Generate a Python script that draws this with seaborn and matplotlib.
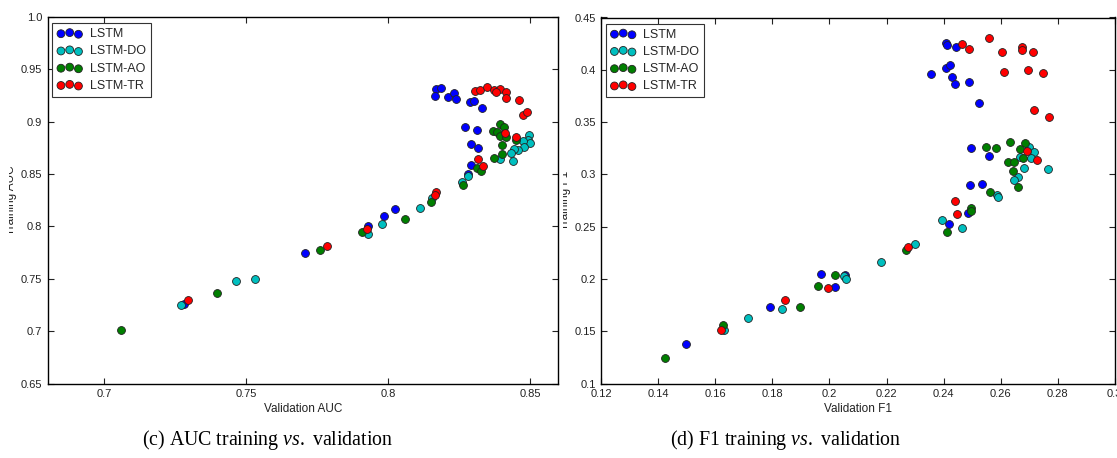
import matplotlib
matplotlib.use("Agg")
import matplotlib.pyplot as plt
import matplotlib.ticker as mticker
from matplotlib.transforms import Bbox, TransformedBbox
import seaborn as sns

# ---- AUC (training vs. validation) ----
lstm_val_auc = [0.8168, 0.8187, 0.8166, 0.8212, 0.8233, 0.8240, 0.8289, 0.8304, 0.8330, 0.8271,
                0.8312, 0.8292, 0.8318, 0.8292, 0.8283, 0.7929, 0.7985, 0.8025, 0.7706, 0.7280]
lstm_tr_auc = [0.9315, 0.9325, 0.9247, 0.9233, 0.9271, 0.9216, 0.9188, 0.9199, 0.9130, 0.8949,
               0.8918, 0.8791, 0.8747, 0.8582, 0.8497, 0.8000, 0.8096, 0.8171, 0.7743, 0.7260]

do_val_auc = [0.8498, 0.8494, 0.8501, 0.8474, 0.8478, 0.8457, 0.8443, 0.8434, 0.8441, 0.8393,
              0.8280, 0.8259, 0.8154, 0.8112, 0.7978, 0.7928, 0.7529, 0.7464, 0.7270]
do_tr_auc = [0.8877, 0.8829, 0.8798, 0.8815, 0.8761, 0.8733, 0.8737, 0.8703, 0.8627, 0.8644,
             0.8484, 0.8426, 0.8275, 0.8172, 0.8024, 0.7932, 0.7500, 0.7476, 0.7250]

ao_val_auc = [0.8394, 0.8409, 0.8369, 0.8384, 0.8410, 0.8393, 0.8415, 0.8452, 0.8401, 0.8400,
              0.8372, 0.8312, 0.8328, 0.8263, 0.8151, 0.8059, 0.7908, 0.7761, 0.7398, 0.7060]
ao_tr_auc = [0.8976, 0.8949, 0.8911, 0.8904, 0.8885, 0.8863, 0.8850, 0.8825, 0.8778, 0.8689,
             0.8655, 0.8559, 0.8532, 0.8391, 0.8237, 0.8072, 0.7949, 0.7774, 0.7360, 0.7010]

tr_val_auc = [0.8306, 0.8325, 0.8349, 0.8374, 0.8394, 0.8380, 0.8415, 0.8417, 0.8462, 0.8475,
              0.8488, 0.8413, 0.8451, 0.8317, 0.8335, 0.8170, 0.8166, 0.7927, 0.7785, 0.7295]
tr_tr_auc = [0.9294, 0.9301, 0.9335, 0.9301, 0.9311, 0.9281, 0.9287, 0.9226, 0.9209, 0.9062,
             0.9089, 0.8894, 0.8853, 0.8644, 0.8573, 0.8330, 0.8296, 0.7973, 0.7815, 0.7301]

# ---- F1 (training vs. validation) ----
lstm_val_f1 = [0.2410, 0.2412, 0.2442, 0.2410, 0.2423, 0.2357, 0.2429, 0.2439, 0.2488, 0.2523,
               0.2496, 0.2558, 0.2494, 0.2535, 0.2486, 0.2420, 0.1969, 0.2020, 0.2054, 0.1792, 0.1498]
lstm_tr_f1 = [0.4253, 0.4239, 0.4215, 0.4020, 0.4044, 0.3958, 0.3934, 0.3862, 0.3879, 0.3680,
              0.3251, 0.3179, 0.2897, 0.2911, 0.2630, 0.2527, 0.2050, 0.1923, 0.2036, 0.1734, 0.1377]

do_val_f1 = [0.2701, 0.2716, 0.2705, 0.2667, 0.2683, 0.2766, 0.2661, 0.2645, 0.2586, 0.2591,
             0.2396, 0.2464, 0.2299, 0.2181, 0.2052, 0.2057, 0.1832, 0.1716, 0.1630]
do_tr_f1 = [0.3265, 0.3213, 0.3155, 0.3162, 0.3059, 0.3052, 0.2976, 0.2949, 0.2801, 0.2784,
            0.2568, 0.2489, 0.2338, 0.2166, 0.2029, 0.2002, 0.1713, 0.1631, 0.1508]

ao_val_f1 = [0.2632, 0.2686, 0.2549, 0.2584, 0.2667, 0.2626, 0.2645, 0.2679, 0.2643, 0.2661,
             0.2564, 0.2496, 0.2495, 0.2412, 0.2269, 0.2020, 0.1960, 0.1897, 0.1627, 0.1422]
ao_tr_f1 = [0.3313, 0.3299, 0.3265, 0.3251, 0.3244, 0.3117, 0.3117, 0.3158, 0.3035, 0.2880,
            0.2836, 0.2674, 0.2647, 0.2448, 0.2276, 0.2039, 0.1930, 0.1727, 0.1559, 0.1247]

tr_val_f1 = [0.2560, 0.2465, 0.2489, 0.2606, 0.2676, 0.2676, 0.2714, 0.2611, 0.2695, 0.2748,
             0.2716, 0.2769, 0.2691, 0.2729, 0.2439, 0.2447, 0.2274, 0.1995, 0.1844, 0.1621]
tr_tr_f1 = [0.4301, 0.4246, 0.4198, 0.4174, 0.4222, 0.4191, 0.4174, 0.3978, 0.3996, 0.3965,
            0.3618, 0.3546, 0.3220, 0.3134, 0.2746, 0.2623, 0.2304, 0.1916, 0.1796, 0.1514]

model_names = ["LSTM", "LSTM-DO", "LSTM-AO", "LSTM-TR"]
model_colors = ["#0000ff", "#00bfbf", "#007f00", "#ff0000"]

auc_series = [(lstm_val_auc, lstm_tr_auc), (do_val_auc, do_tr_auc),
              (ao_val_auc, ao_tr_auc), (tr_val_auc, tr_tr_auc)]
f1_series = [(lstm_val_f1, lstm_tr_f1), (do_val_f1, do_tr_f1),
             (ao_val_f1, ao_tr_f1), (tr_val_f1, tr_tr_f1)]

sns.set_style("white")
plt.rcParams["font.family"] = ["Liberation Sans", "DejaVu Sans"]
plt.rcParams["mathtext.fontset"] = "custom"
plt.rcParams["mathtext.rm"] = "Liberation Serif"
plt.rcParams["mathtext.it"] = "Liberation Serif:italic"

W, H = 1117, 458
fig = plt.figure(figsize=(W / 100, H / 100), dpi=100)
fig.patch.set_facecolor("white")


def px_axes(x0, x1, ytop, ybot):
    return fig.add_axes([x0 / W, (H - ybot) / H, (x1 - x0) / W, (ybot - ytop) / H])


ax1 = px_axes(47.7, 558.4, 17.0, 383.5)
ax2 = px_axes(601.2, 1114.8, 17.5, 383.5)


def fmt(v, _pos):
    s = "%g" % round(v, 6)
    if "." not in s:
        s += ".0"
    return s


def draw_panel(ax, series, xlim, ylim, xstep, ystep, xlabel, ylabel, label_px, clip_px, x0_px):
    for (vx, vy), name, col in zip(series, model_names, model_colors):
        sns.scatterplot(x=vx, y=vy, ax=ax, color=col, s=32, edgecolor="#222222",
                        linewidth=0.6, label=name, zorder=3)
    ax.set_xlim(*xlim)
    ax.set_ylim(*ylim)
    ax.xaxis.set_major_locator(mticker.MultipleLocator(xstep))
    ax.yaxis.set_major_locator(mticker.MultipleLocator(ystep))
    ax.xaxis.set_major_formatter(mticker.FuncFormatter(fmt))
    ax.yaxis.set_major_formatter(mticker.FuncFormatter(fmt))
    ax.tick_params(direction="in", top=True, right=True, bottom=True, left=True,
                   length=4, width=0.8, labelsize=8, colors="#222222", pad=4)
    for sp in ax.spines.values():
        sp.set_color("black")
        sp.set_linewidth(1.0)
    ax.set_xlabel(xlabel, fontsize=8.5, color="#222222", labelpad=3)
    ax.set_ylabel(ylabel, fontsize=8.5, color="#222222")
    ax.yaxis.set_label_coords((label_px - x0_px) / (ax.get_position().width * W), 0.5)
    lab = ax.yaxis.label
    lab.set_clip_box(TransformedBbox(Bbox([[clip_px / W, 0.0], [1.0, 1.0]]), fig.transFigure))
    lab.set_clip_on(True)
    leg = ax.legend(loc="upper left", bbox_to_anchor=(4.5 / (ax.get_position().width * W),
                                                      1 - 6.0 / (ax.get_position().height * H)),
                    borderaxespad=0, scatterpoints=3, scatteryoffsets=[0.375, 0.5, 0.3125],
                    fontsize=9, frameon=True, fancybox=False, framealpha=1,
                    labelspacing=0.42, borderpad=0.4, handlelength=2.0, handletextpad=0.6)
    leg.get_frame().set_edgecolor("#333333")
    leg.get_frame().set_linewidth(0.8)


draw_panel(ax1, auc_series, (0.68, 0.86), (0.65, 1.0), 0.05, 0.05,
           "Validation AUC", "Training AUC", 16.5, 8.5, 47.7)
draw_panel(ax2, f1_series, (0.12, 0.30), (0.10, 0.45), 0.02, 0.05,
           "Validation F1", "Training F1", 571.5, 563.0, 601.2)

cap_kw = dict(ha="center", va="center", fontsize=14.3, family="Liberation Serif", color="black")
fig.text(268 / W, (H - 440) / H, r"(c) AUC training $\mathit{vs.}$ validation", **cap_kw)
fig.text(786 / W, (H - 440) / H, r"(d) F1 training $\mathit{vs.}$ validation", **cap_kw)

fig.savefig("out.png", dpi=100, facecolor="white")
